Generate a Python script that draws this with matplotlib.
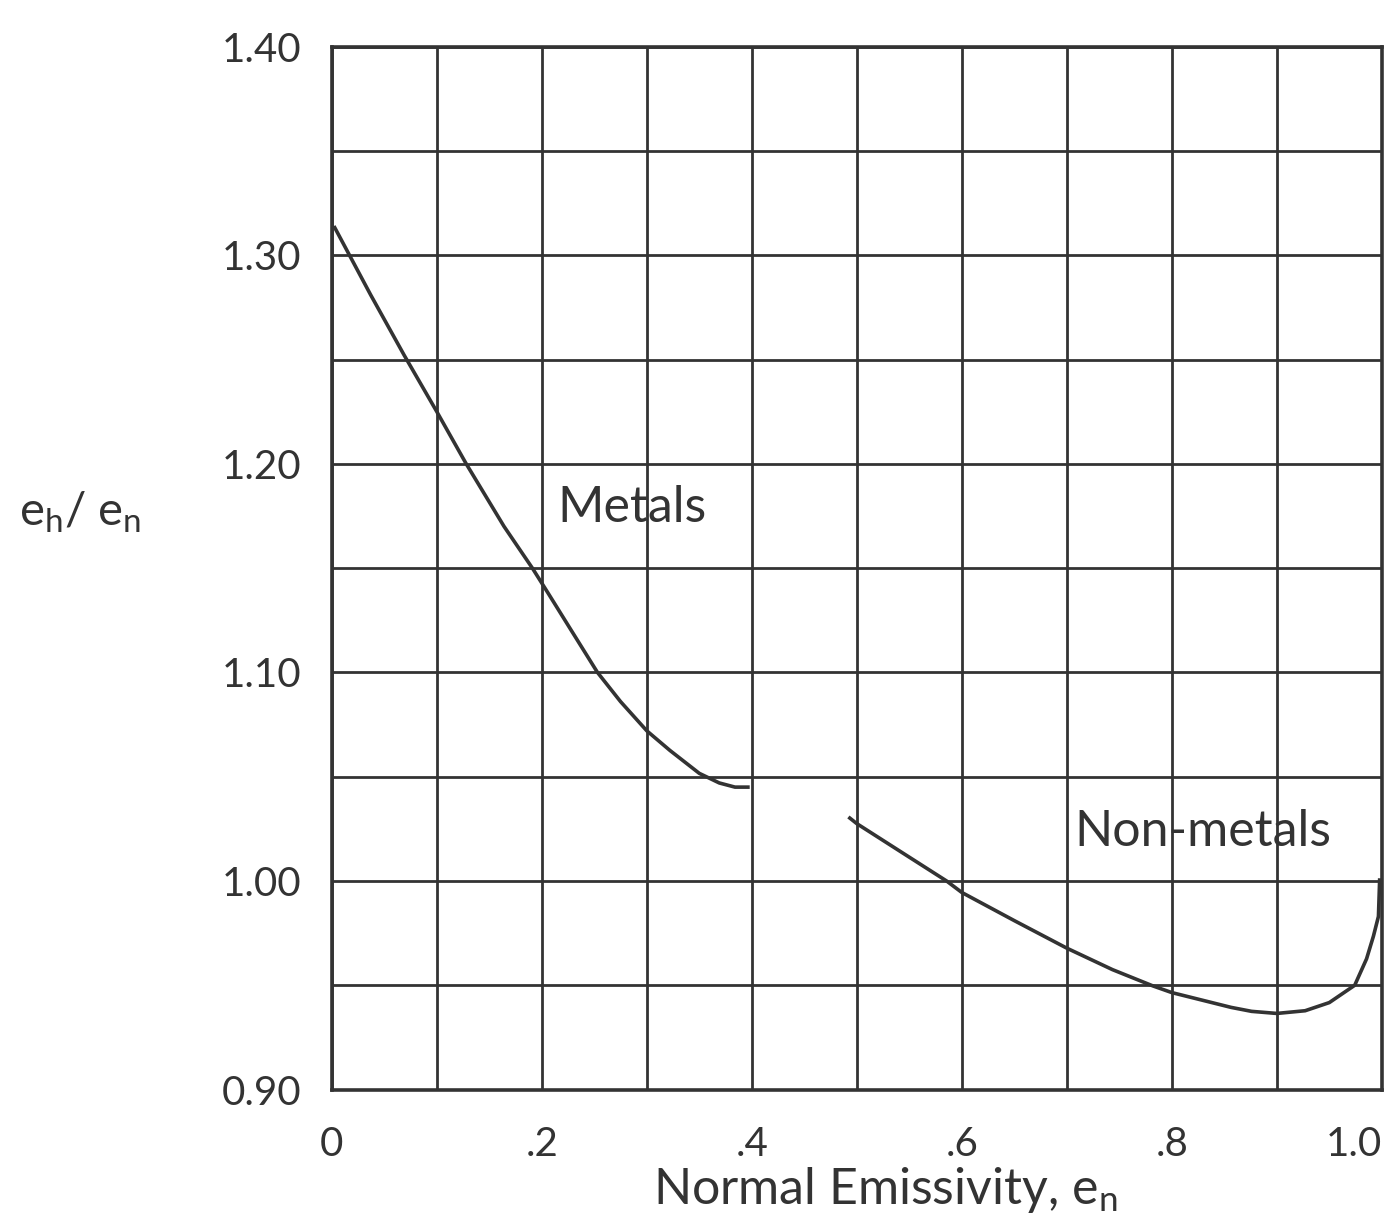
import numpy as np
import matplotlib.pyplot as plt

# curves
metals_x = [0.002, 0.037, 0.069, 0.100, 0.128, 0.164, 0.191, 0.206, 0.227,
            0.253, 0.275, 0.300, 0.322, 0.350, 0.369, 0.384, 0.398]
metals_y = [1.314, 1.281, 1.252, 1.225, 1.200, 1.170, 1.150, 1.138, 1.121,
            1.100, 1.086, 1.072, 1.0626, 1.0516, 1.047, 1.045, 1.045]

nonmetals_x = [0.492, 0.500, 0.5435, 0.5855, 0.600, 0.650, 0.700, 0.7435, 0.782, 0.800,
               0.8565, 0.876, 0.900, 0.927, 0.950, 0.9742, 0.9855, 0.992, 0.9968, 0.998]
nonmetals_y = [1.0307, 1.0275, 1.0135, 1.000, 0.9945, 0.981, 0.9678, 0.9575, 0.9497, 0.9465,
               0.9394, 0.9375, 0.9365, 0.9378, 0.9417, 0.950, 0.9627, 0.9735, 0.983, 1.0013]

x_ticks = [0, 0.2, 0.4, 0.6, 0.8, 1.0]
x_labels = ['0', '.2', '.4', '.6', '.8', '1.0']
y_ticks = [0.90, 1.00, 1.10, 1.20, 1.30, 1.40]
y_labels = ['0.90', '1.00', '1.10', '1.20', '1.30', '1.40']

plt.rcParams['font.family'] = ['Lato', 'DejaVu Sans']
plt.rcParams['mathtext.fontset'] = 'custom'
plt.rcParams['mathtext.rm'] = 'Lato'
plt.rcParams['mathtext.it'] = 'Lato'

ink = '#333333'

fig = plt.figure(figsize=(14, 12.27), dpi=100)
ax = fig.add_axes([0.237, 0.112, 0.750, 0.850])

ax.plot(metals_x, metals_y, color=ink, lw=2.6, solid_capstyle='butt')
ax.plot(nonmetals_x, nonmetals_y, color=ink, lw=2.6, solid_capstyle='butt')

ax.set_xlim(0, 1.0)
ax.set_ylim(0.90, 1.40)
ax.set_xticks(x_ticks)
ax.set_xticklabels(x_labels)
ax.set_yticks(y_ticks)
ax.set_yticklabels(y_labels)
ax.set_xticks(np.arange(0, 1.01, 0.1), minor=True)
ax.set_yticks(np.arange(0.90, 1.401, 0.05), minor=True)
ax.grid(True, which='both', color=ink, lw=2.0)
ax.tick_params(which='both', length=0)
ax.tick_params(axis='x', pad=26, labelsize=29, colors=ink)
ax.tick_params(axis='y', pad=22, labelsize=29, colors=ink)
ax.get_xticklabels()[-1].set_horizontalalignment('right')
ax.get_xticklabels()[-1].set_x(1.016)
for s in ax.spines.values():
    s.set_linewidth(2.6)
    s.set_color(ink)

ax.text(0.286, 1.179, 'Metals', fontsize=36, color=ink, ha='center', va='center')
ax.text(0.83, 1.0236, 'Non-metals', fontsize=36, color=ink, ha='center', va='center')

fig.text(885 / 1400, 1 - 1190 / 1227, r'Normal Emissivity, e$_\mathregular{n}$',
         fontsize=36, color=ink, ha='center', va='center')
fig.text(80 / 1400, 1 - 512 / 1227, r'e$_\mathregular{h}$/ e$_\mathregular{n}$',
         fontsize=34, color=ink, ha='center', va='center')

fig.savefig('out.png', dpi=100, facecolor='white')
